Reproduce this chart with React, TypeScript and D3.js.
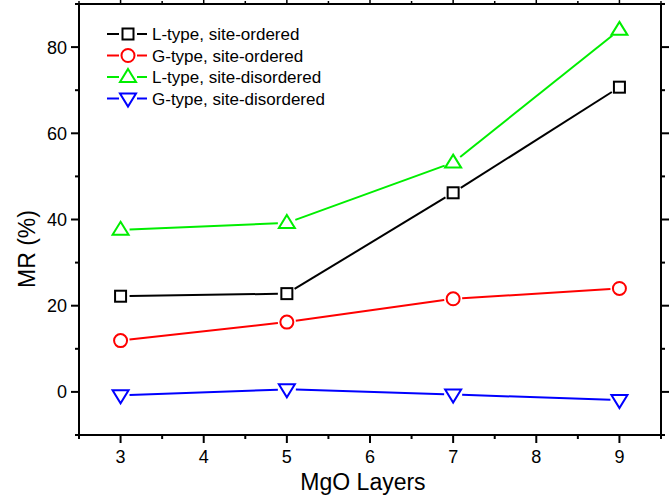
import React from "react";
import * as d3 from "d3";

const layers = [3, 5, 7, 9];
const lOrdered = [22.2, 22.8, 46.2, 70.7];
const gOrdered = [11.9, 16.2, 21.6, 24.0];
const lDisordered = [37.6, 39.2, 53.2, 84.0];
const gDisordered = [-0.8, 0.6, -0.6, -1.9];
const xTicks = [3, 4, 5, 6, 7, 8, 9];
const yTicks = [0, 20, 40, 60, 80];

const seriesNames = [
  "L-type, site-ordered",
  "G-type, site-ordered",
  "L-type, site-disordered",
  "G-type, site-disordered",
];
const seriesColors = ["#000000", "#ff0000", "#00ee00", "#0000ff"];
const seriesShapes = ["square", "circle", "triangleUp", "triangleDown"];
const seriesValues = [lOrdered, gOrdered, lDisordered, gDisordered];

const W = 669;
const H = 500;
const L = 79, R = 661, T = 4, B = 435;
const FONT = "Liberation Sans, Arial, sans-serif";

function Marker({ shape, cx, cy, color }: { shape: string; cx: number; cy: number; color: string }) {
  const sw = 2;
  if (shape === "square") {
    return <rect x={cx - 5.5} y={cy - 5.5} width={11} height={11} fill="none" stroke={color} strokeWidth={sw} />;
  }
  if (shape === "circle") {
    return <circle cx={cx} cy={cy} r={6.5} fill="none" stroke={color} strokeWidth={sw} />;
  }
  if (shape === "triangleUp") {
    const pts = `${cx},${cy - 8} ${cx + 8},${cy + 5} ${cx - 8},${cy + 5}`;
    return <polygon points={pts} fill="none" stroke={color} strokeWidth={sw} />;
  }
  const pts = `${cx - 8},${cy - 5} ${cx + 8},${cy - 5} ${cx},${cy + 8}`;
  return <polygon points={pts} fill="none" stroke={color} strokeWidth={sw} />;
}

export default function App() {
  const x = d3.scaleLinear().domain([2.5, 9.5]).range([L, R]);
  const y = d3.scaleLinear().domain([-10, 90]).range([B, T]);
  const xMinor = d3.range(2.5, 9.51, 0.5).filter((v) => !xTicks.includes(v));
  const yMinor = d3.range(-10, 90.1, 10).filter((v) => !yTicks.includes(v));
  const gap = 9;

  const segs = (vals: number[]) => {
    const out: { x1: number; y1: number; x2: number; y2: number }[] = [];
    for (let i = 0; i < vals.length - 1; i++) {
      const ax = x(layers[i]), ay = y(vals[i]);
      const bx = x(layers[i + 1]), by = y(vals[i + 1]);
      const dx = bx - ax, dy = by - ay;
      const len = Math.hypot(dx, dy);
      const ux = dx / len, uy = dy / len;
      out.push({ x1: ax + ux * gap, y1: ay + uy * gap, x2: bx - ux * gap, y2: by - uy * gap });
    }
    return out;
  };

  return (
    <svg width={W} height={H} style={{ position: "absolute", left: 0, top: 0, background: "#fff" }} fontFamily={FONT}>
      <rect x={0} y={0} width={W} height={H} fill="#fff" />
      {/* frame */}
      <rect x={L} y={T} width={R - L} height={B - T} fill="none" stroke="#000" strokeWidth={2} />
      {/* x ticks */}
      {xTicks.map((v) => (
        <g key={"xt" + v}>
          <line x1={x(v)} x2={x(v)} y1={B} y2={B + 8} stroke="#000" strokeWidth={2} />
          <line x1={x(v)} x2={x(v)} y1={T} y2={T - 4} stroke="#000" strokeWidth={1.5} />
          <text x={x(v)} y={B + 28} textAnchor="middle" fontSize={18}>{v}</text>
        </g>
      ))}
      {xMinor.map((v) => (
        <g key={"xm" + v}>
          <line x1={x(v)} x2={x(v)} y1={B} y2={B + 4} stroke="#000" strokeWidth={2} />
          <line x1={x(v)} x2={x(v)} y1={T} y2={T - 3} stroke="#000" strokeWidth={1.5} />
        </g>
      ))}
      {/* y ticks */}
      {yTicks.map((v) => (
        <g key={"yt" + v}>
          <line x1={L} x2={L - 8} y1={y(v)} y2={y(v)} stroke="#000" strokeWidth={2} />
          <line x1={R} x2={R + 8} y1={y(v)} y2={y(v)} stroke="#000" strokeWidth={2} />
          <text x={L - 12} y={y(v) + 6.5} textAnchor="end" fontSize={18}>{v}</text>
        </g>
      ))}
      {yMinor.map((v) => (
        <g key={"ym" + v}>
          <line x1={L} x2={L - 4} y1={y(v)} y2={y(v)} stroke="#000" strokeWidth={2} />
          <line x1={R} x2={R + 4} y1={y(v)} y2={y(v)} stroke="#000" strokeWidth={2} />
        </g>
      ))}
      {/* axis titles */}
      <text x={363} y={490} textAnchor="middle" fontSize={23}>MgO Layers</text>
      <text transform={`translate(35,249) rotate(-90)`} textAnchor="middle" fontSize={23}>MR (%)</text>
      {/* series */}
      {seriesValues.map((vals, si) => (
        <g key={"s" + si}>
          {segs(vals).map((s, i) => (
            <line key={i} x1={s.x1} y1={s.y1} x2={s.x2} y2={s.y2} stroke={seriesColors[si]} strokeWidth={2} />
          ))}
          {vals.map((v, i) => (
            <Marker key={i} shape={seriesShapes[si]} cx={x(layers[i])} cy={y(v)} color={seriesColors[si]} />
          ))}
        </g>
      ))}
      {/* legend */}
      {seriesNames.map((name, i) => {
        const ly = 34 + i * 21.5;
        return (
          <g key={"lg" + i}>
            <line x1={107} x2={119} y1={ly} y2={ly} stroke={seriesColors[i]} strokeWidth={2} />
            <line x1={137} x2={147} y1={ly} y2={ly} stroke={seriesColors[i]} strokeWidth={2} />
            <Marker shape={seriesShapes[i]} cx={128} cy={ly} color={seriesColors[i]} />
            <text x={152} y={ly + 6} fontSize={17}>{name}</text>
          </g>
        );
      })}
    </svg>
  );
}
